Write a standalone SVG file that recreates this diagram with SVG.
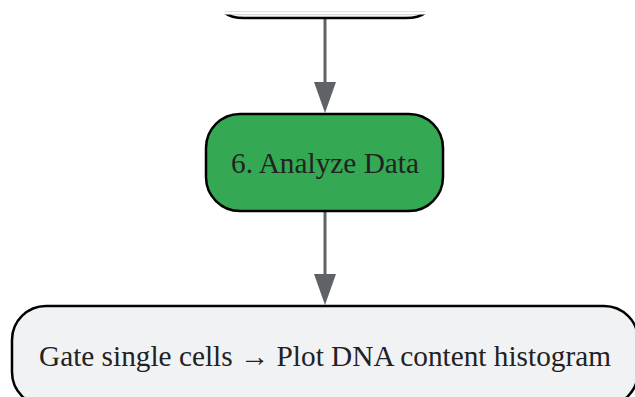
<svg xmlns="http://www.w3.org/2000/svg" width="635" height="397" viewBox="0 0 635 397">
<defs>
<style>
.node{stroke:#000;stroke-width:2.5}
.gray{fill:#f1f2f4}
.green{fill:#34a853}
.lbl{font-family:"Liberation Serif","Times New Roman",serif;font-size:29.3px;fill:#222;text-anchor:middle;dominant-baseline:central}
.edge{stroke:#5f6368;stroke-width:3;fill:none}
.head{fill:#5f6368}
</style>
</defs>
<g id="connectors">
<line class="edge" x1="325" y1="18" x2="325" y2="84"/>
<path class="head" d="M314,82 L336,82 L325,113 Z"/>
<line class="edge" x1="325" y1="211" x2="325" y2="276"/>
<path class="head" d="M314,274 L336,274 L325,305 Z"/>
</g>
<g id="node5">
<path class="node gray" d="M225,13 Q231,18 244,18 L406,18 Q419,18 425,13 Z" stroke-linejoin="round"/>
<path d="M222,13 L428,13" stroke="#fff" stroke-width="3"/>
</g>
<g id="node6">
<rect class="node green" x="206" y="114" width="237" height="97" rx="34"/>
<text class="lbl" x="325" y="163">6. Analyze Data</text>
</g>
<g id="node7">
<rect class="node gray" x="12" y="306" width="626" height="100" rx="34"/>
<text class="lbl" x="325" y="356">Gate single cells → Plot DNA content histogram</text>
</g>
</svg>
